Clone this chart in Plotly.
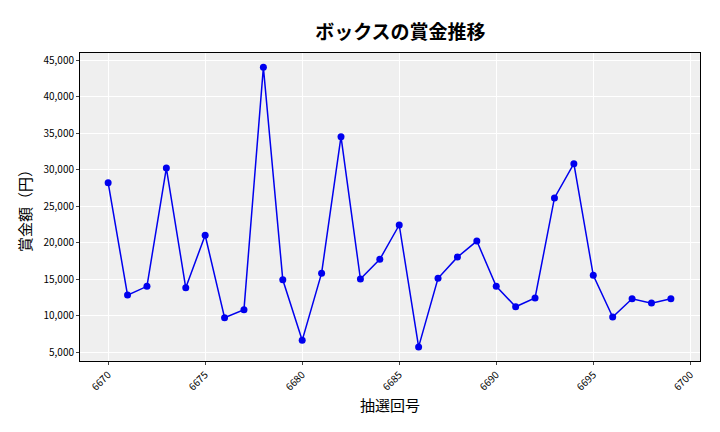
import plotly.graph_objects as go

draws = list(range(6670, 6700))
prizes = [28200, 12800, 14000, 30200, 13800, 21000, 9700, 10800, 44000, 14900,
          6600, 15800, 34500, 15000, 17700, 22400, 5700, 15100, 18000, 20200,
          14000, 11200, 12400, 26100, 30800, 15500, 9800, 12300, 11700, 12300]
x_ticks = [6670, 6675, 6680, 6685, 6690, 6695, 6700]
y_ticks = list(range(5000, 45001, 5000))

font = "Noto Sans CJK JP"
fig = go.Figure(go.Scatter(x=draws, y=prizes, mode="lines+markers",
                           line=dict(color="#0000ee", width=1.5),
                           marker=dict(color="#0000ee", size=7)))
fig.update_layout(
    width=720, height=432, margin=dict(l=72, r=28, t=45, b=79, autoexpand=False),
    paper_bgcolor="white", plot_bgcolor="#efefef",
    font=dict(family=font, color="black"),
    title=dict(text="<b>ボックスの賞金推移</b>", x=0.545, xanchor="center", y=0.96, font=dict(size=19)),
    showlegend=False,
)
fig.update_xaxes(range=[6668.55, 6700.5], tickvals=x_ticks, tickangle=-45,
                 tickfont=dict(size=10), gridcolor="white", showline=True, linecolor="black",
                 mirror=True, ticks="outside", ticklen=3,
                 title=dict(text="抽選回号", font=dict(size=15), standoff=8))
fig.update_yaxes(range=[3770, 45960], tickvals=y_ticks, tickformat=",",
                 tickfont=dict(size=10), gridcolor="white", showline=True, linecolor="black",
                 mirror=True, ticks="outside", ticklen=3,
                 title=dict(text="賞金額（円）", font=dict(size=15), standoff=8))
fig.write_html("out.html")
